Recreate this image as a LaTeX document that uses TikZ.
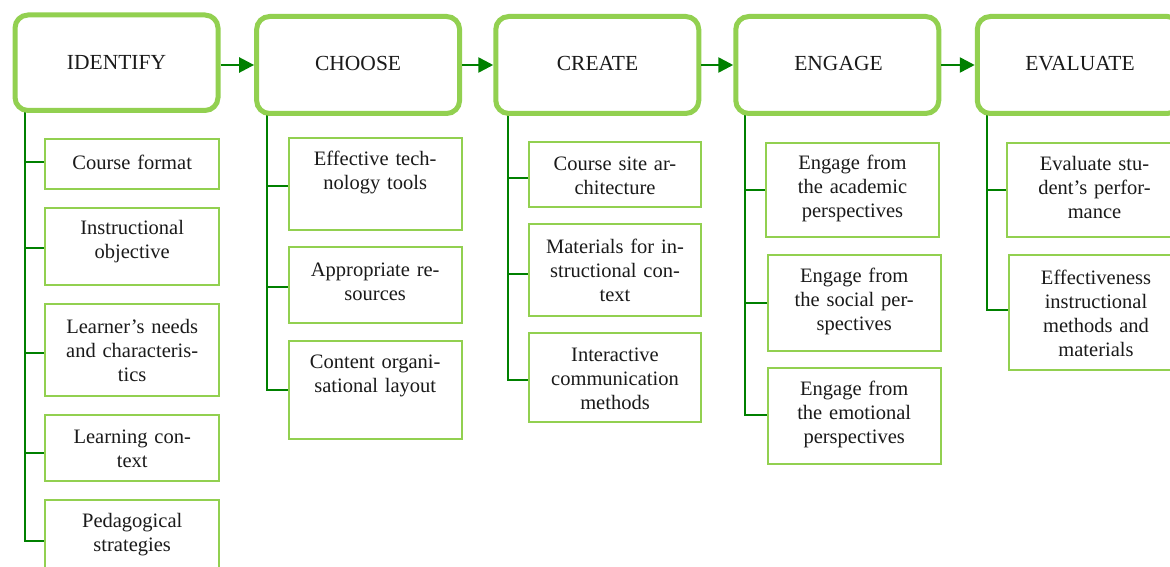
\documentclass[tikz,border=0pt]{standalone}
\usepackage{fontspec}
\setmainfont{Liberation Serif}
\usetikzlibrary{arrows.meta}
\definecolor{stagegreen}{HTML}{92D050}
\definecolor{linkgreen}{HTML}{008000}
\definecolor{inkdark}{HTML}{1A1A1A}
\tikzset{
  stage/.style={draw=stagegreen, line width=5pt, rounded corners=13pt, fill=white,
    minimum width=203pt, minimum height=97pt, inner sep=0pt,
    font=\fontsize{21.5}{24}\selectfont, text=inkdark},
  stagelabel/.style={inner sep=0pt, font=\fontsize{21.5}{24}\selectfont, text=inkdark},
  item/.style={draw=stagegreen, line width=2pt, fill=white, inner sep=0pt},
  itemtext/.style={align=center, text width=172pt, inner sep=0pt,
    font=\fontsize{20.5}{24}\selectfont, text=inkdark},
  flow/.style={draw=linkgreen, line width=2.6pt, -{Triangle[length=15pt,width=15pt]}},
  branch/.style={draw=linkgreen, line width=2.3pt},
}
\begin{document}
\begin{tikzpicture}[x=1pt, y=-1pt]
\useasboundingbox (0,0) rectangle (1170,567);
\clip (0,0) rectangle (1170,567);

% tree trunks hanging below each stage
\coordinate (t1) at (25,110.5);
\coordinate (t2) at (266.7,113.5);
\coordinate (t3) at (508.3,113.5);
\coordinate (t4) at (745,113.5);
\coordinate (t5) at (986.7,113.5);

% ---- IDENTIFY column boxes
\node[item, minimum width=174pt, minimum height=50pt] (c1a) at (132.2,164.2) {};
\node[item, minimum width=174pt, minimum height=76.4pt] (c1b) at (132.2,246.5) {};
\node[item, minimum width=174pt, minimum height=92pt] (c1c) at (132.2,349.7) {};
\node[item, minimum width=174pt, minimum height=66pt] (c1d) at (132.2,448) {};
\node[item, minimum width=174pt, minimum height=80pt] (c1e) at (132.2,540) {};

% ---- CHOOSE column boxes
\node[item, minimum width=173pt, minimum height=91.4pt] (c2a) at (375.2,184) {};
\node[item, minimum width=173pt, minimum height=76pt] (c2b) at (375.2,285) {};
\node[item, minimum width=173pt, minimum height=98pt] (c2c) at (375.2,390) {};

% ---- CREATE column boxes
\node[item, minimum width=172.6pt, minimum height=65pt] (c3a) at (615,174.2) {};
\node[item, minimum width=172.6pt, minimum height=91.2pt] (c3b) at (615,269.9) {};
\node[item, minimum width=172.6pt, minimum height=89pt] (c3c) at (615,377.8) {};

% ---- ENGAGE column boxes
\node[item, minimum width=173pt, minimum height=94.6pt] (c4a) at (852.5,190) {};
\node[item, minimum width=173pt, minimum height=95.4pt] (c4b) at (854.2,303) {};
\node[item, minimum width=173pt, minimum height=95.7pt] (c4c) at (854.2,416.2) {};

% ---- EVALUATE column boxes
\node[item, minimum width=174pt, minimum height=94.6pt] (c5a) at (1094,190) {};
\node[item, minimum width=174pt, minimum height=114.4pt] (c5b) at (1096,312.5) {};

% branches from the trunks to the boxes (offset = drop below box centre)
\foreach \t/\b/\d in {t1/c1a/-2, t1/c1b/1.8, t1/c1c/3.6, t1/c1d/4.7, t1/c1e/0.7,
                      t2/c2a/2, t2/c2b/1.7, t2/c2c/0,
                      t3/c3a/3.8, t3/c3b/4, t3/c3c/2.2,
                      t4/c4a/0, t4/c4b/-0.3, t4/c4c/-1,
                      t5/c5a/0, t5/c5b/-2.5}
  \draw[branch] (\t) |- ([yshift=-\d pt]\b.west);

% box texts
\node[itemtext] (c1a-t) at (132.2,162) {Course format};
\node[itemtext] (c1b-t) at (132.2,242) {Instructional\\objective};
\node[itemtext] (c1c-t) at (132.2,350) {Learner’s needs\\and characteris-\\tics};
\node[itemtext] (c1d-t) at (132.2,449) {Learning con-\\text};
\node[itemtext] (c1e-t) at (132.2,535) {Pedagogical\\strategies};

\node[itemtext] (c2a-t) at (375.2,172) {Effective tech-\\nology tools};
\node[itemtext] (c2b-t) at (375.2,282) {Appropriate re-\\sources};
\node[itemtext] (c2c-t) at (375.2,375.5) {Content organi-\\sational layout};

\node[itemtext] (c3a-t) at (615,176) {Course site ar-\\chitecture};
\node[itemtext] (c3b-t) at (615,270) {Materials for in-\\structional con-\\text};
\node[itemtext] (c3c-t) at (615,378.7) {Interactive\\communication\\methods};

\node[itemtext] (c4a-t) at (852.5,188) {Engage from\\the academic\\perspectives};
\node[itemtext] (c4b-t) at (854.2,301) {Engage from\\the social per-\\spectives};
\node[itemtext] (c4c-t) at (854.2,414) {Engage from\\the emotional\\perspectives};

\node[itemtext] (c5a-t) at (1094.5,187.7) {Evaluate stu-\\dent’s perfor-\\mance};
\node[itemtext] (c5b-t) at (1096,312.9) {Effectiveness\\instructional\\methods and\\materials};

% stages
\node[stage, minimum height=95.5pt] (identify) at (116.5,62.75) {};
\node[stage] (choose)   at (358.1,65)   {};
\node[stage] (create)   at (597.25,65)  {};
\node[stage] (engage)   at (837.25,65)  {};
\node[stage] (evaluate) at (1078.75,65) {};
\node[stagelabel] (identify-t) at (116.5,62)   {IDENTIFY};
\node[stagelabel] (choose-t)   at (358.1,63.5) {CHOOSE};
\node[stagelabel] (create-t)   at (597.5,63.5) {CREATE};
\node[stagelabel] (engage-t)   at (838.5,63.5) {ENGAGE};
\node[stagelabel] (evaluate-t) at (1080,63.5)  {EVALUATE};

% flow between stages
\draw[flow] (identify.east |- choose.west) -- (choose.west);
\draw[flow] (choose) -- (create);
\draw[flow] (create) -- (engage);
\draw[flow] (engage) -- (evaluate);
\end{tikzpicture}
\end{document}
